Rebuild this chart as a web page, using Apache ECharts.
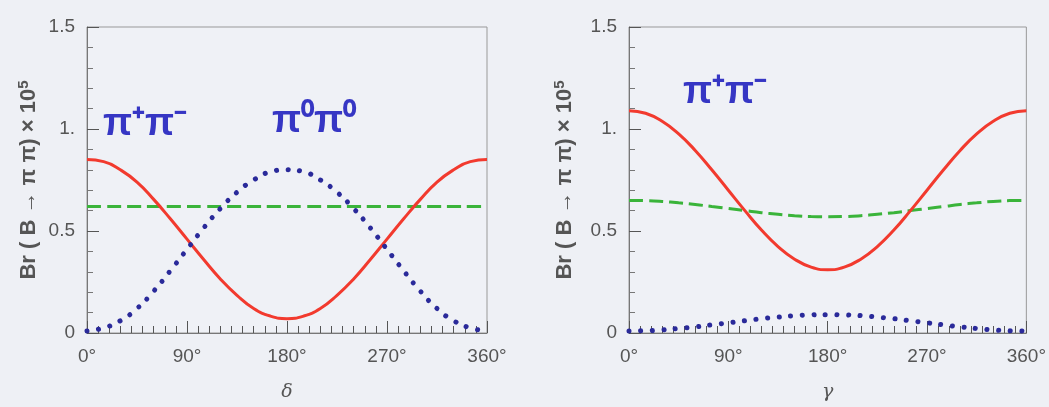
<!DOCTYPE html>
<html><head><meta charset="utf-8">
<script src="https://cdn.jsdelivr.net/npm/echarts@6/dist/echarts.min.js"></script>
<style>html,body{margin:0;padding:0;background:#eef0f5;}#c{width:1049px;height:407px;}</style>
</head><body><div id="c"></div>
<script>
// Angle samples (degrees)
var angles = [0,15,30,45,60,75,90,105,120,135,150,165,180,195,210,225,240,255,270,285,300,315,330,345,360];
var xTickLabels = ['0°','90°','180°','270°','360°'];
var yTickLabels = ['0','0.5','1.','1.5'];
// Left panel: vs delta
var leftPipi = [0.85,0.84,0.80,0.74,0.655,0.56,0.46,0.36,0.265,0.185,0.12,0.083,0.07,0.083,0.12,0.185,0.265,0.36,0.46,0.56,0.655,0.74,0.80,0.84,0.85];
var leftPi0pi0 = [0.01,0.025,0.06,0.12,0.205,0.305,0.41,0.515,0.61,0.69,0.75,0.79,0.80,0.79,0.75,0.69,0.61,0.515,0.41,0.305,0.205,0.12,0.06,0.025,0.01];
var leftGreen = [0.62,0.62,0.62,0.62,0.62,0.62,0.62,0.62,0.62,0.62,0.62,0.62,0.62,0.62,0.62,0.62,0.62,0.62,0.62,0.62,0.62,0.62,0.62,0.62,0.62];
// Right panel: vs gamma
var rightPipi = [1.09,1.077,1.038,0.976,0.895,0.80,0.70,0.60,0.505,0.424,0.362,0.323,0.31,0.323,0.362,0.424,0.505,0.60,0.70,0.80,0.895,0.976,1.038,1.077,1.09];
var rightGreen = [0.65,0.649,0.645,0.638,0.63,0.62,0.61,0.60,0.59,0.582,0.575,0.571,0.57,0.571,0.575,0.582,0.59,0.60,0.61,0.62,0.63,0.638,0.645,0.649,0.65];
var rightBlue = [0.01,0.011,0.015,0.022,0.03,0.04,0.05,0.06,0.07,0.078,0.085,0.089,0.09,0.089,0.085,0.078,0.07,0.06,0.05,0.04,0.03,0.022,0.015,0.011,0.01];

function pairs(ys){ return angles.map(function(a,i){ return [a, ys[i]]; }); }

var gray = '#555';
var labelFont = {color: gray, fontSize: 19, fontFamily: 'Liberation Sans'};

function xAxis(idx, name){
  return {
    gridIndex: idx, type: 'value', min: 0, max: 360, interval: 90,
    name: name, nameLocation: 'middle', nameGap: 50,
    nameTextStyle: {color: gray, fontSize: 19, fontStyle: 'italic', fontFamily: 'DejaVu Serif'},
    axisLine: {show: true, lineStyle: {color: '#777', width: 1}},
    axisTick: {show: true, inside: true, length: 12, lineStyle: {color: '#555'}},
    minorTick: {show: true, splitNumber: 9, length: 7, lineStyle: {color: '#555'}},
    splitLine: {show: false},
    axisLabel: Object.assign({margin: 14, formatter: function(v){ return xTickLabels[Math.round(v/90)]; }}, labelFont)
  };
}
function yAxis(idx, gap){
  return {
    gridIndex: idx, type: 'value', min: 0, max: 1.5, interval: 0.5,
    name: 'Br ( B → π π) × 10{s|5}', nameLocation: 'middle', nameGap: gap, nameRotate: 90,
    nameTextStyle: {color: gray, fontSize: 22, fontWeight: 'bold', fontFamily: 'Liberation Sans',
      rich: {s: {fontSize: 15, fontWeight: 'bold', color: gray, verticalAlign: 'top', padding: [0,0,10,0]}}},
    axisLine: {show: true, lineStyle: {color: '#777', width: 1}},
    axisTick: {show: true, inside: true, length: 12, lineStyle: {color: '#555'}},
    minorTick: {show: true, splitNumber: 5, length: 6, lineStyle: {color: '#777'}},
    splitLine: {show: false},
    axisLabel: Object.assign({margin: 12, formatter: function(v){ return yTickLabels[Math.round(v/0.5)]; }}, labelFont)
  };
}

var red = {type: 'line', smooth: true, symbol: 'none', lineStyle: {color: '#f23a2e', width: 3}, z: 3};
var green = {type: 'line', smooth: true, symbol: 'none', lineStyle: {color: '#3ab43a', width: 3, type: [14, 6]}, z: 2};
var blue = {type: 'line', smooth: true, symbol: 'none', lineStyle: {color: '#2a2a9a', width: 5, type: [0.1, 11.5], cap: 'round'}, z: 4};

function s(base, xi, data){ return Object.assign({}, base, {xAxisIndex: xi, yAxisIndex: xi, data: pairs(data)}); }

var piStyle = {fill: '#3636c4', fontSize: 38, fontWeight: 'bold', fontFamily: 'Liberation Sans'};

var option = {
  backgroundColor: '#eef0f5',
  animation: false,
  grid: [
    {left: 87, right: 562, top: 27, bottom: 74, show: true, borderColor: '#999', borderWidth: 1, backgroundColor: '#eff1f6'},
    {left: 629, right: 20, top: 27, bottom: 74, show: true, borderColor: '#999', borderWidth: 1, backgroundColor: '#eff1f6'}
  ],
  xAxis: [xAxis(0, 'δ'), xAxis(1, 'γ')],
  yAxis: [yAxis(0, 46), yAxis(1, 52)],
  series: [
    s(green, 0, leftGreen), s(red, 0, leftPipi), s(blue, 0, leftPi0pi0),
    s(green, 1, rightGreen), s(red, 1, rightPipi), s(blue, 1, rightBlue)
  ],
  graphic: [
    {type: 'text', left: 103, top: 106, style: Object.assign({text: 'π⁺π⁻'}, piStyle)},
    {type: 'text', left: 272, top: 103, style: Object.assign({text: 'π⁰π⁰'}, piStyle)},
    {type: 'text', left: 683, top: 74, style: Object.assign({text: 'π⁺π⁻'}, piStyle)}
  ]
};
echarts.init(document.getElementById('c')).setOption(option);
</script></body></html>
